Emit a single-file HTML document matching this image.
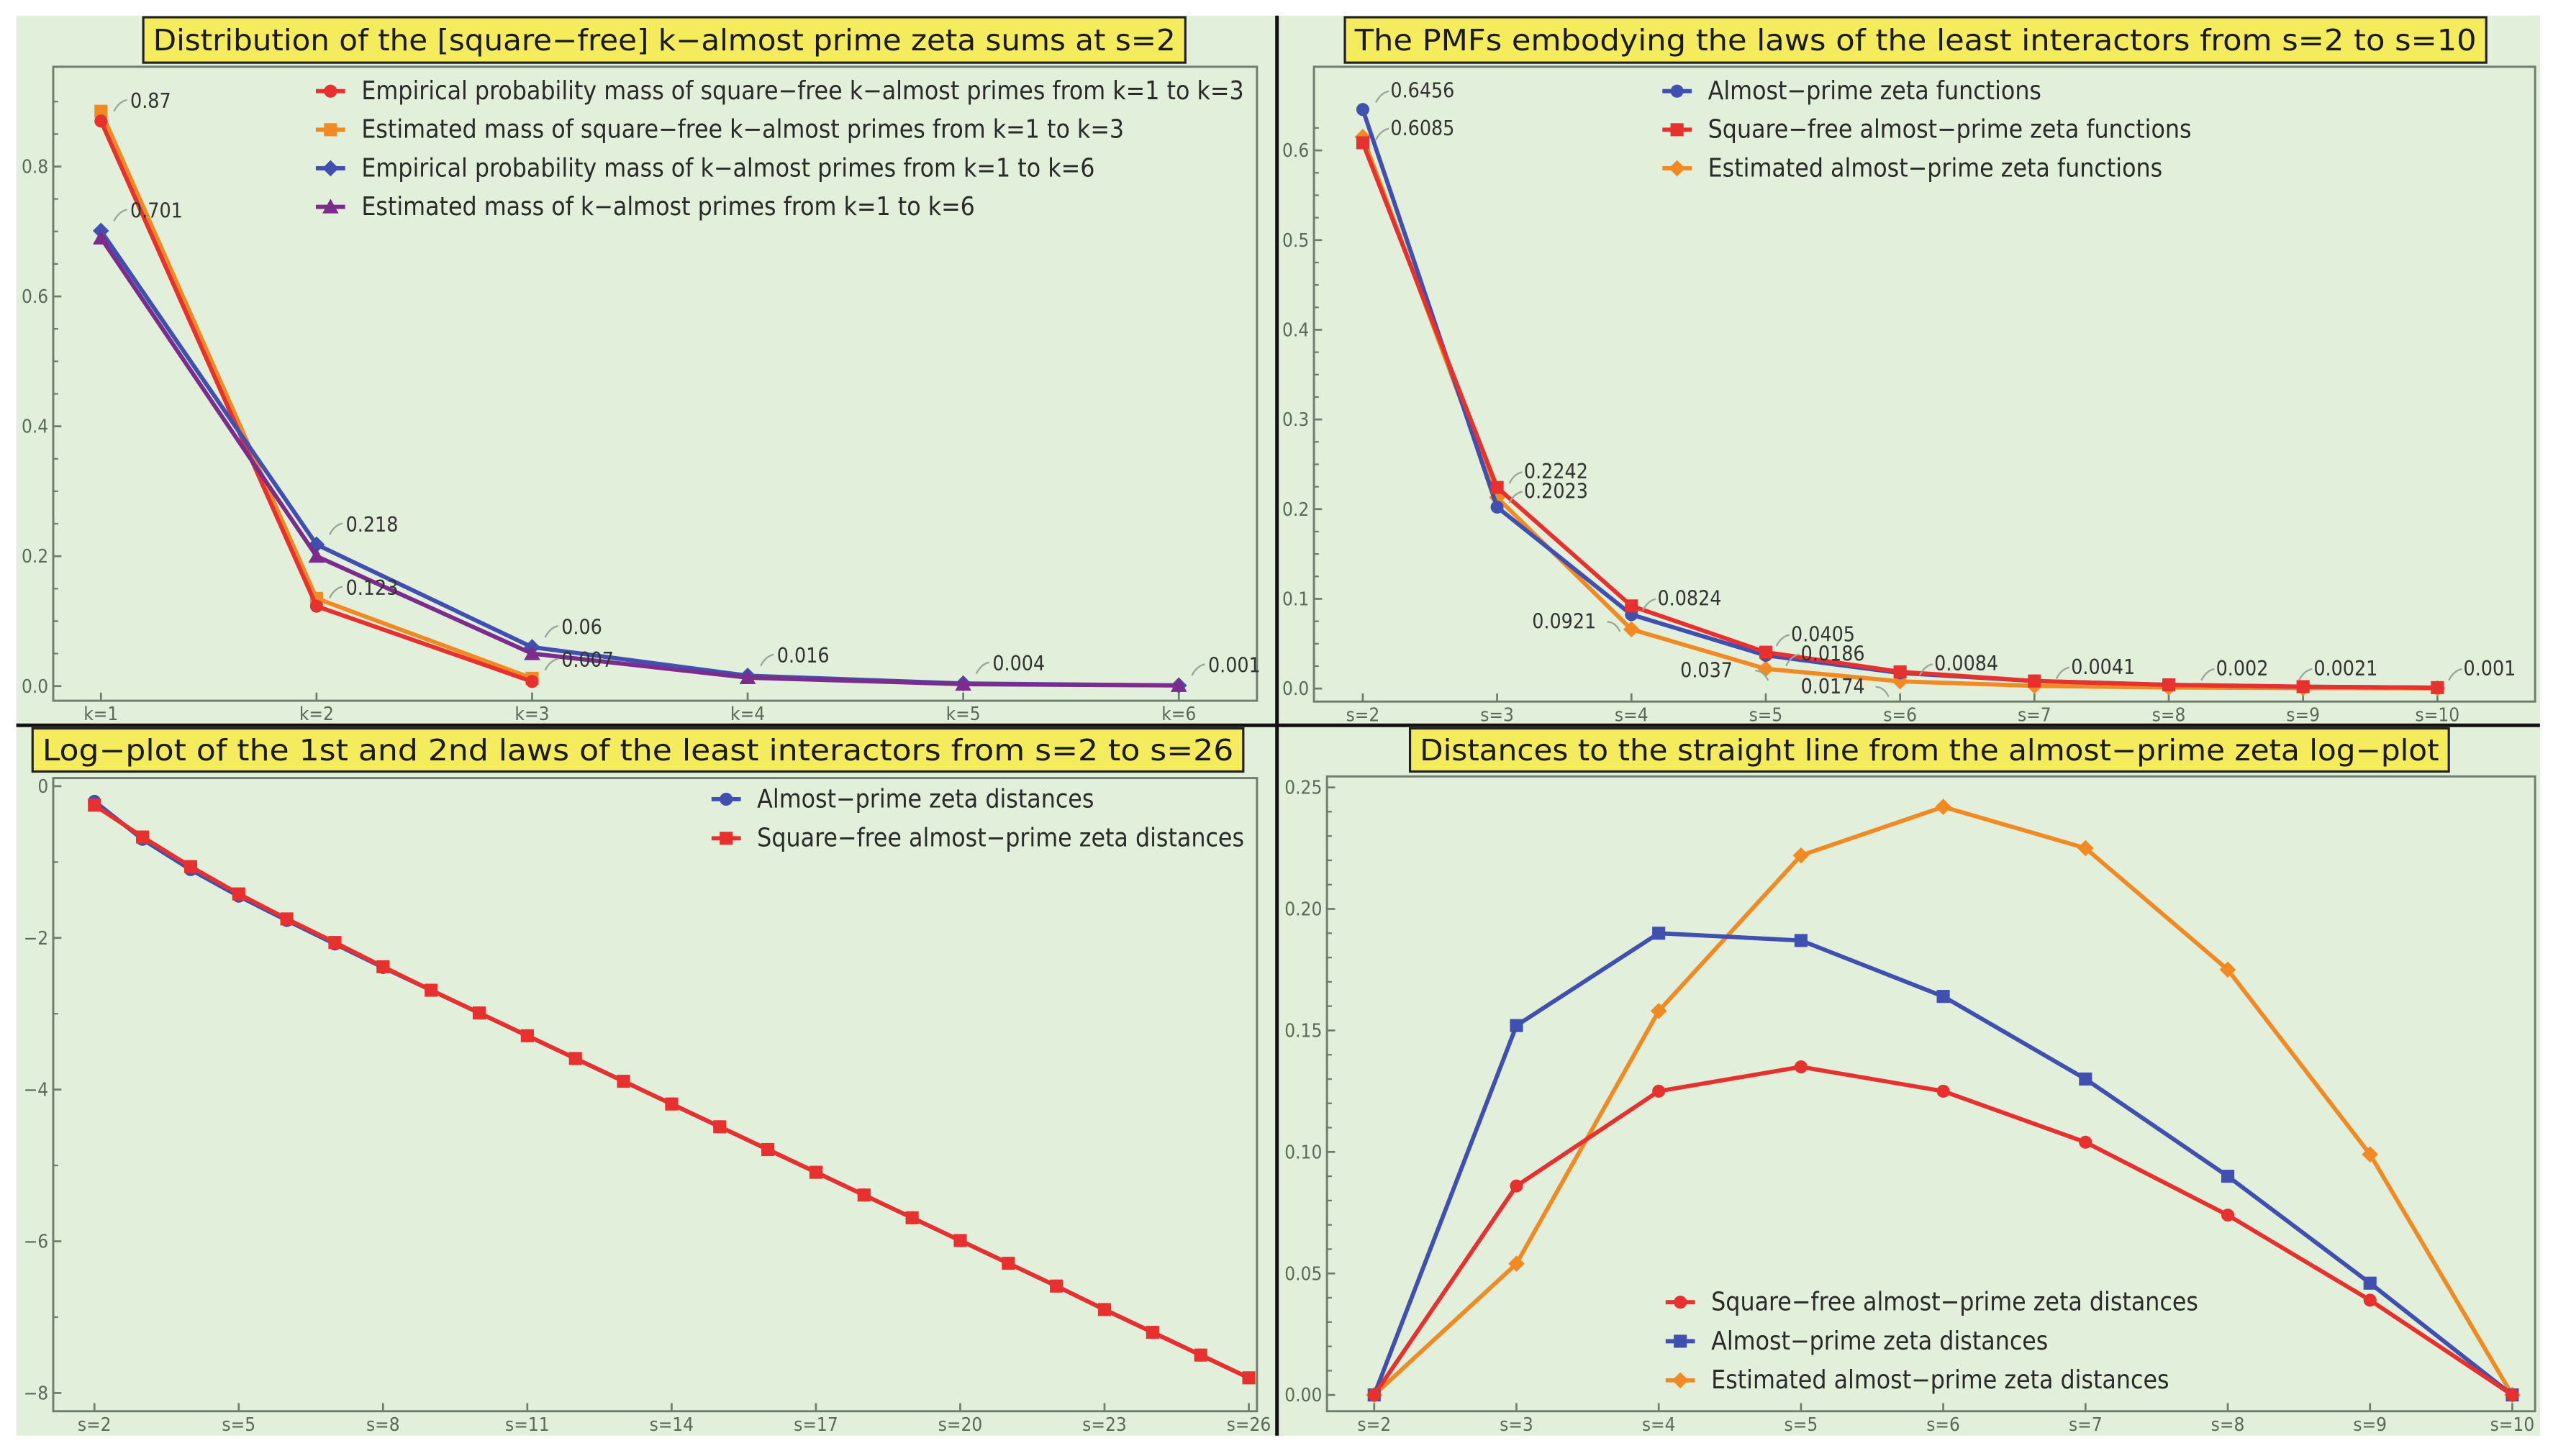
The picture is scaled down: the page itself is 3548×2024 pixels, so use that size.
<!DOCTYPE html>
<html><head><meta charset="utf-8">
<style>
html,body{margin:0;padding:0;background:#fff;}
svg{display:block;}
text{font-family:"DejaVu Sans Condensed","DejaVu Sans","Liberation Sans",sans-serif;}
.tick{fill:#5a6a5a;font-size:11.5px;}
.leg{fill:#2a2a2a;font-size:15.6px;}
.ann{fill:#333;font-size:12.5px;}
.title{fill:#1a1a1a;font-size:18px;}
</style></head>
<body>
<svg id="fig" width="3548" height="2024" viewBox="0 0 1568 894.5" preserveAspectRatio="none" xmlns="http://www.w3.org/2000/svg">
<rect x="10" y="9.6" width="1550" height="872.4" fill="#e2efda"/>
<g id="layer"></g>
<line x1="784.3" y1="9.6" x2="784.3" y2="882" stroke="#111" stroke-width="2.2"/>
<line x1="10" y1="445.6" x2="1560" y2="445.6" stroke="#111" stroke-width="2.2"/>
</svg>
<script>
// ---- Panel 1 data (TL)
const kCats = ["k=1","k=2","k=3","k=4","k=5","k=6"];
const sfEmp = [0.87, 0.123, 0.007];
const sfEst = [0.885, 0.135, 0.012];
const apEmp = [0.701, 0.218, 0.06, 0.016, 0.004, 0.001];
const apEst = [0.69, 0.2, 0.05, 0.013, 0.003, 0.001];
const p1Ticks = [0.0, 0.2, 0.4, 0.6, 0.8];
const p1Labels = ["0.87","0.701","0.218","0.123","0.06","0.007","0.016","0.004","0.001"];
// ---- Panel 2 data (TR)
const sCats10 = ["s=2","s=3","s=4","s=5","s=6","s=7","s=8","s=9","s=10"];
const pmfAP = [0.6456, 0.2023, 0.0824, 0.037, 0.0174, 0.0084, 0.0041, 0.002, 0.001];
const pmfSF = [0.6085, 0.2242, 0.0921, 0.0405, 0.0186, 0.0084, 0.0041, 0.0021, 0.001];
const pmfEst = [0.615, 0.213, 0.066, 0.022, 0.008, 0.003, 0.0012, 0.0005, 0.0002];
const p2Ticks = [0.0, 0.1, 0.2, 0.3, 0.4, 0.5, 0.6];
const p2Labels = ["0.6456","0.6085","0.2242","0.2023","0.0824","0.0921","0.0405","0.037","0.0186","0.0174","0.0084","0.0041","0.002","0.0021","0.001"];
// ---- Panel 3 data (BL)
const sCats26 = ["s=2","s=3","s=4","s=5","s=6","s=7","s=8","s=9","s=10","s=11","s=12","s=13","s=14","s=15","s=16","s=17","s=18","s=19","s=20","s=21","s=22","s=23","s=24","s=25","s=26"];
const logAP = [-0.2,-0.7,-1.1,-1.45,-1.77,-2.08,-2.39,-2.69,-2.99,-3.29,-3.59,-3.89,-4.19,-4.49,-4.79,-5.09,-5.39,-5.69,-5.99,-6.29,-6.59,-6.9,-7.2,-7.5,-7.8];
const logSF = [-0.25,-0.67,-1.06,-1.42,-1.75,-2.06,-2.38,-2.69,-2.99,-3.29,-3.59,-3.89,-4.19,-4.49,-4.79,-5.09,-5.39,-5.69,-5.99,-6.29,-6.59,-6.9,-7.2,-7.5,-7.8];
const p3Ticks = [0,-2,-4,-6,-8];
const p3XTicks = ["s=2","s=5","s=8","s=11","s=14","s=17","s=20","s=23","s=26"];
// ---- Panel 4 data (BR)
const distSF = [0, 0.086, 0.125, 0.135, 0.125, 0.104, 0.074, 0.039, 0];
const distAP = [0, 0.152, 0.190, 0.187, 0.164, 0.130, 0.090, 0.046, 0];
const distEst = [0, 0.054, 0.158, 0.222, 0.242, 0.225, 0.175, 0.099, 0];
const p4Ticks = [0.00, 0.05, 0.10, 0.15, 0.20, 0.25];
const p4TickLabels = ["0.00","0.05","0.10","0.15","0.20","0.25"];

const NS = "http://www.w3.org/2000/svg";
const layer = document.getElementById('layer');
const RED="#e8312e", ORANGE="#f28a24", BLUE="#4050b0", PURPLE="#7b2c8c";
function mk(tag, attrs, parent){ const e=document.createElementNS(NS,tag); for(const k in attrs) e.setAttribute(k,attrs[k]); (parent||layer).appendChild(e); return e; }
function txt(x,y,s,cls,anchor,parent){ const t=mk('text',{x:x,y:y,class:cls,'text-anchor':anchor||'start'},parent); t.textContent=s; return t; }

function marker(g, type, x, y, color, r){
  r = r||4;
  let e;
  if(type==='circle') e=mk('circle',{cx:x,cy:y,r:r,fill:color},g);
  else if(type==='square') e=mk('rect',{x:x-r,y:y-r,width:2*r,height:2*r,fill:color},g);
  else if(type==='diamond') e=mk('polygon',{points:`${x},${y-r-1} ${x+r+1},${y} ${x},${y+r+1} ${x-r-1},${y}`,fill:color},g);
  else e=mk('polygon',{points:`${x},${y-r-1} ${x+r+1},${y+r} ${x-r-1},${y+r}`,fill:color},g);
  return e;
}
function series(g, vals, sx, sy, color, type, name){
  const sg=mk('g',{},g);
  
  
  const pts=vals.map((v,i)=>sx(i)+','+sy(v)).join(' ');
  const pl=mk('polyline',{points:pts,fill:'none',stroke:color,'stroke-width':2.6,'stroke-linejoin':'round'},sg);
  
  
  vals.forEach((v,i)=>{
    const m=marker(sg,type,sx(i),sy(v),color,4);
    
    
  });
}
function frame(g,x0,y0,x1,y1){
  const r=mk('rect',{x:x0,y:y0,width:x1-x0,height:y1-y0,fill:'none',stroke:'#6e7e6e','stroke-width':1.3},g);
  
  
}
function titleBox(g,x0,y0,x1,y1,s){
  const b=mk('rect',{x:x0,y:y0,width:x1-x0,height:y1-y0,fill:'#f4ec5c',stroke:'#222','stroke-width':1.4},g);
  
  
  const t=txt((x0+x1)/2,y0+(y1-y0)/2+6.5,s,'title','middle',g);
  
  
  t.setAttribute('textLength',(x1-x0)-12);
  t.setAttribute('lengthAdjust','spacingAndGlyphs');
}
function legend(g,x,y,dy,items){
  items.forEach((it,i)=>{
    const lg=mk('g',{},g);
    
    
    const yy=y+i*dy;
    mk('line',{x1:x-9,y1:yy,x2:x+9,y2:yy,stroke:it[1],'stroke-width':2.6},lg);
    marker(lg,it[2],x,yy,it[1],4);
    txt(x+19,yy+5,it[0],'leg','start',lg);
  });
}
function yAxis(g,x,ticks,sy,labels,minor){
  ticks.forEach((v,i)=>{
    mk('line',{x1:x,y1:sy(v),x2:x+5,y2:sy(v),stroke:'#6e7e6e','stroke-width':1.2},g);
    const t=txt(x-3,sy(v)+4,labels?labels[i]:String(v.toFixed(1)).replace('-','−'),'tick','end',g);
    
    
  });
  if(minor) minor.forEach(v=>mk('line',{x1:x,y1:sy(v),x2:x+3,y2:sy(v),stroke:'#6e7e6e','stroke-width':1},g));
}
function xAxis(g,y,cats,sx,labels){
  cats.forEach((c,i)=>{
    if(labels && labels.indexOf(c)<0) return;
    mk('line',{x1:sx(i),y1:y,x2:sx(i),y2:y-5,stroke:'#6e7e6e','stroke-width':1.2},g);
    const t=txt(sx(i),y+12,c,'tick','middle',g);
    
    
  });
}
function annot(g,x,y,s,lx,ly,left){
  if(left) mk('path',{d:`M${lx},${ly} q5,0 8,6`,fill:'none',stroke:'#9aa49a','stroke-width':1},g);
  else mk('path',{d:`M${lx},${ly} q3,-6 8,-7`,fill:'none',stroke:'#9aa49a','stroke-width':1},g);
  const t=txt(x,y,s,'ann','start',g);
  
  
}

// ===== Panel 1
(function(){
  const g=mk('g',{});
  
  
  const sx=i=>62+i*(724-62)/5, sy=v=>421.5-v*399;
  frame(g,32.7,41,772,430.5);
  titleBox(g,88,10.6,728,38.5,'Distribution of the [square−free] k−almost prime zeta sums at s=2');
  const minor=[0.1,0.3,0.5,0.7,0.9,0.05,0.15,0.25,0.35,0.45,0.55,0.65,0.75,0.85];
  yAxis(g,32.7,p1Ticks,sy,null,minor);
  xAxis(g,430.5,kCats,sx);
  series(g,sfEst,sx,sy,ORANGE,'square','sf-estimated-series');
  series(g,sfEmp,sx,sy,RED,'circle','sf-empirical-series');
  series(g,apEmp,sx,sy,BLUE,'diamond','ap-empirical-series');
  series(g,apEst,sx,sy,PURPLE,'triangle','ap-estimated-series');
  const pos=[[0,sfEmp[0]],[0,apEmp[0]],[1,apEmp[1]],[1,sfEmp[1]],[2,apEmp[2]],[2,sfEmp[2]],[3,apEmp[3]],[4,apEmp[4]],[5,apEmp[5]]];
  pos.forEach((p,i)=>{ const x=sx(p[0]), y=sy(p[1]); let ty=y-8; if(i===0) ty=sy(sfEst[0])-2; if(i===5) ty=y-9; if(i===3) ty=y-7; annot(g,x+18,ty,p1Labels[i],x+8,ty+2); });
  legend(g,203,56,23.7,[["Empirical probability mass of square−free k−almost primes from k=1 to k=3",RED,'circle'],["Estimated mass of square−free k−almost primes from k=1 to k=3",ORANGE,'square'],["Empirical probability mass of k−almost primes from k=1 to k=6",BLUE,'diamond'],["Estimated mass of k−almost primes from k=1 to k=6",PURPLE,'triangle']]);
})();

// ===== Panel 2
(function(){
  const g=mk('g',{});
  
  
  const sx=i=>837+i*(1497-837)/8, sy=v=>423-v*551;
  frame(g,807,41,1557,431);
  titleBox(g,826,10.6,1527,38.5,'The PMFs embodying the laws of the least interactors from s=2 to s=10');
  const minor=[];for(let k=1;k<13;k+=2)minor.push(k*0.05);for(let k=1;k<=25;k++){if(k%2)minor.push(k*0.025);}
  yAxis(g,807,p2Ticks,sy,null,minor);
  xAxis(g,431,sCats10,sx);
  series(g,pmfEst,sx,sy,ORANGE,'diamond','estimated-zeta-series');
  series(g,pmfAP,sx,sy,BLUE,'circle','almost-prime-zeta-series');
  series(g,pmfSF,sx,sy,RED,'square','square-free-zeta-series');
  // [labelIndex, x, y, leftSide]
  const spots=[[0,854,60,0],[1,854,83,0],[2,936,294,0],[3,936,306,0],[4,1018,372,0],[5,941,386,1],[6,1100,394,0],[7,1032,416,1],[8,1106,406,0],[9,1106,426,1],[10,1188,412,0],[11,1272,414,0],[12,1361,415,0],[13,1421,415,0],[14,1513,415,0]];
  spots.forEach(s=>{ if(s[3]) annot(g,s[1],s[2],p2Labels[s[0]],s[1]+46,s[2]-4,1); else annot(g,s[1],s[2],p2Labels[s[0]],s[1]-9,s[2]+3,0); });
  legend(g,1030,56,23.7,[["Almost−prime zeta functions",BLUE,'circle'],["Square−free almost−prime zeta functions",RED,'square'],["Estimated almost−prime zeta functions",ORANGE,'diamond']]);
})();

// ===== Panel 3
(function(){
  const g=mk('g',{});
  
  
  const sx=i=>58+i*(767-58)/24, sy=v=>483-v*46.6;
  frame(g,32.7,478,772,867);
  titleBox(g,20,447.5,763.6,474,'Log−plot of the 1st and 2nd laws of the least interactors from s=2 to s=26');
  const minor=[-1,-3,-5,-7];
  yAxis(g,32.7,p3Ticks,sy,p3Ticks.map(v=>v===0?'0':'−'+Math.abs(v)),minor);
  xAxis(g,867,sCats26,sx,p3XTicks);
  series(g,logAP,sx,sy,BLUE,'circle','almost-prime-distance-series');
  series(g,logSF,sx,sy,RED,'square','square-free-distance-series');
  legend(g,446,491,24,[["Almost−prime zeta distances",BLUE,'circle'],["Square−free almost−prime zeta distances",RED,'square']]);
})();

// ===== Panel 4
(function(){
  const g=mk('g',{});
  
  
  const sx=i=>844+i*(1543-844)/8, sy=v=>857-v*1493;
  frame(g,815,477,1557,867);
  titleBox(g,866,447.5,1504,474,'Distances to the straight line from the almost−prime zeta log−plot');
  const minor=[];for(let k=1;k<25;k++) if(k%5) minor.push(k*0.01);
  yAxis(g,815,p4Ticks,sy,p4TickLabels,minor);
  xAxis(g,867,sCats10,sx);
  series(g,distEst,sx,sy,ORANGE,'diamond','estimated-distance-series');
  series(g,distAP,sx,sy,BLUE,'square','almost-prime-distance-series');
  series(g,distSF,sx,sy,RED,'circle','square-free-distance-series');
  legend(g,1032,800,24,[["Square−free almost−prime zeta distances",RED,'circle'],["Almost−prime zeta distances",BLUE,'square'],["Estimated almost−prime zeta distances",ORANGE,'diamond']]);
})();
</script>
</body></html>
